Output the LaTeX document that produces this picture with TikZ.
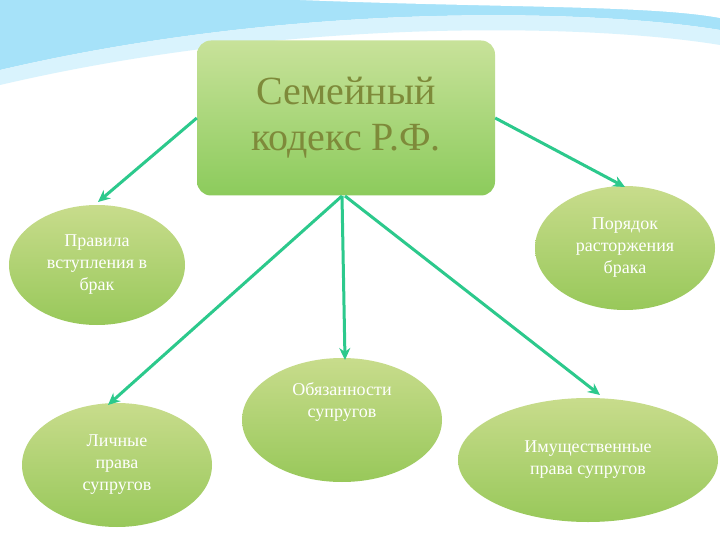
\documentclass[tikz,border=0pt]{standalone}
\usepackage{fontspec}
\setmainfont{Liberation Serif}
\definecolor{ovtop}{HTML}{C8DC8C}
\definecolor{ovbot}{HTML}{98C85A}
\definecolor{rtop}{HTML}{C8E29A}
\definecolor{rbot}{HTML}{8CCB5C}
\definecolor{ttl}{HTML}{7E8A3A}
\definecolor{arrc}{HTML}{2CC98C}
\begin{document}
\begin{tikzpicture}[x=1pt,y=-1pt,
  oval/.style={ellipse,draw=none,top color=ovtop,bottom color=ovbot, text=white, align=center, font=\fontsize{18}{22}\selectfont},
  arr/.style={draw=arrc, line width=3pt, -{Stealth[length=12pt,width=11pt]}}]
\usetikzlibrary{shapes.geometric,arrows.meta}
\useasboundingbox (0,0) rectangle (720,540);
\fill[white] (0,0) rectangle (720,540);
% decorative wave
\fill[cyan!35] (0,0) -- (720,0) -- (720,30) .. controls (600,10) and (300,0) .. (0,70) -- cycle;
\fill[cyan!15] (0,70) .. controls (300,0) and (600,10) .. (720,30) -- (720,45) .. controls (600,25) and (300,15) .. (0,85) -- cycle;
\fill[white] (300,0) .. controls (500,8) and (650,5) .. (720,18) -- (720,0) -- cycle;
\node[draw=none, rounded corners=14pt, minimum width=298pt, minimum height=155pt,
  top color=rtop, bottom color=rbot, text=ttl, align=center,
  font=\fontsize{40}{46}\selectfont] (top) at (346,118) {Семейный\\кодекс Р.Ф.};
\node[oval, minimum width=176pt, minimum height=120pt] (a) at (97,265) {Правила\\вступления в\\брак};
\node[oval, minimum width=180pt, minimum height=124pt] (b) at (625,248) {Порядок\\расторжения\\брака};
\node[oval, minimum width=190pt, minimum height=124pt] (c) at (117,465) {Личные\\права\\супругов};
\node[oval, minimum width=200pt, minimum height=124pt, text depth=40pt] (d) at (342,420) {Обязанности\\супругов};
\node[oval, minimum width=260pt, minimum height=124pt] (e) at (588,460) {Имущественные\\права супругов};
\draw[arr] (top.west) -- (98,202);
\draw[arr] (top.east) -- (625,187);
\draw[arr] (342,196) -- (345,360);
\draw[arr] (342,196) -- (108,405);
\draw[arr] (345,196) -- (600,395);
\end{tikzpicture}
\end{document}
